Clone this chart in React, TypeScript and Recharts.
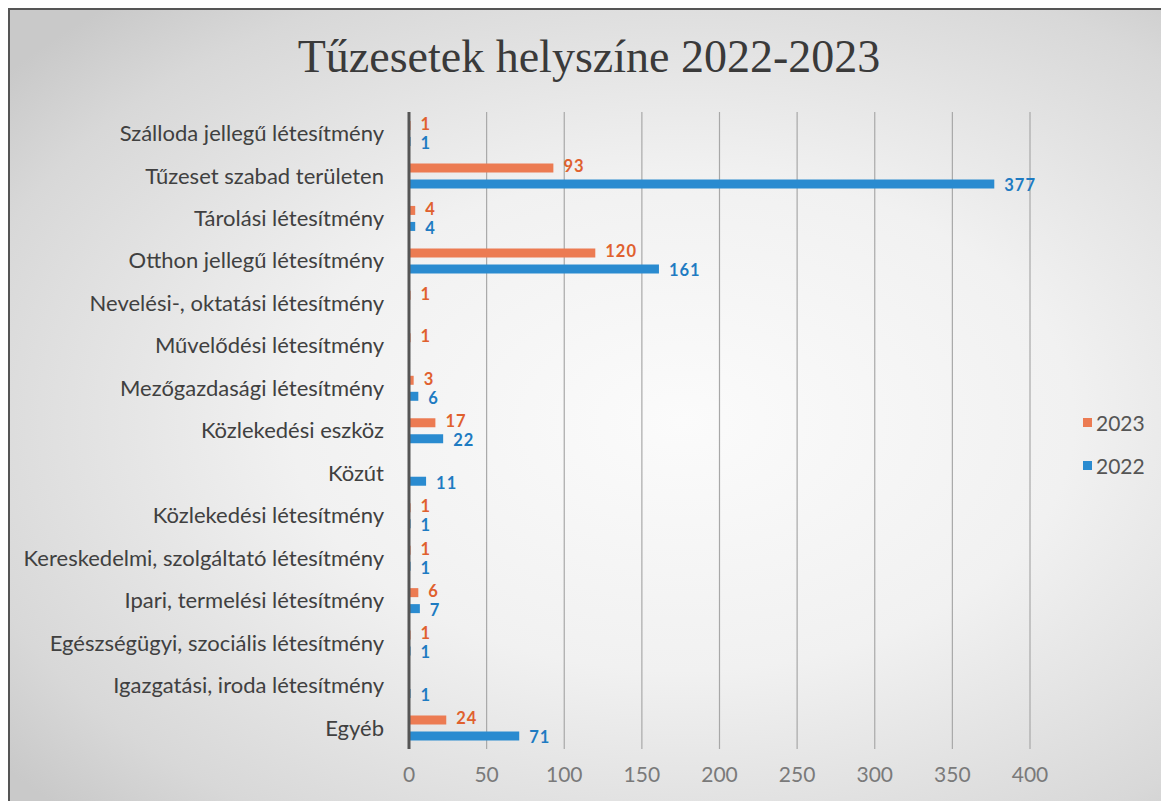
import { BarChart, Bar, XAxis, YAxis, CartesianGrid, LabelList } from "recharts"

const categories = [
  "Szálloda jellegű létesítmény",
  "Tűzeset szabad területen",
  "Tárolási létesítmény",
  "Otthon jellegű létesítmény",
  "Nevelési-, oktatási létesítmény",
  "Művelődési létesítmény",
  "Mezőgazdasági létesítmény",
  "Közlekedési eszköz",
  "Közút",
  "Közlekedési létesítmény",
  "Kereskedelmi, szolgáltató létesítmény",
  "Ipari, termelési létesítmény",
  "Egészségügyi, szociális létesítmény",
  "Igazgatási, iroda létesítmény",
  "Egyéb",
]

const values2023 = [1, 93, 4, 120, 1, 1, 3, 17, null, 1, 1, 6, 1, null, 24]
const values2022 = [1, 377, 4, 161, null, null, 6, 22, 11, 1, 1, 7, 1, 1, 71]
const xTicks = [0, 50, 100, 150, 200, 250, 300, 350, 400]
const legendItems = ["2023", "2022"]

const data = categories.map((name, i) => ({
  name,
  y2023: values2023[i],
  y2022: values2022[i],
}))

const ORANGE = "#EC7B52"
const BLUE = "#2A8BD0"
const FONT = "Lato, 'Open Sans', sans-serif"
const legendColors = [ORANGE, BLUE]

const fmt = (v: any) => (v === null || v === undefined ? "" : v)

export default function App() {
  return (
    <div
      style={{
        position: "relative",
        width: 1161,
        height: 793,
        boxSizing: "border-box",
        borderLeft: "2px solid #555",
        borderTop: "2px solid #555",
        background:
          "radial-gradient(ellipse 75% 70% at 58% 52%, #fbfbfb 0%, #f1f1f1 45%, #d8d8d8 85%, #c9c9c9 100%)",
      }}
    >
      <div
        style={{
          position: "absolute",
          top: 20,
          left: 0,
          width: 1158,
          textAlign: "center",
          fontFamily: "'Liberation Serif', 'Times New Roman', serif",
          fontSize: 46,
          color: "#3a3a3a",
        }}
      >
        Tűzesetek helyszíne 2022-2023
      </div>
      <div
        style={{
          position: "absolute",
          left: 1073,
          top: 391,
          fontFamily: FONT,
          fontSize: 21,
          color: "#555",
          lineHeight: "43px",
        }}
      >
        {legendItems.map((s, i) => (
          <div key={s} style={{ display: "flex", alignItems: "center" }}>
            <span style={{ width: 9, height: 9, background: legendColors[i], marginRight: 4, display: "inline-block" }} />
            {s}
          </div>
        ))}
      </div>
      <BarChart
        width={1159}
        height={791}
        data={data}
        layout="vertical"
        margin={{ top: 102, right: 139, bottom: 12, left: 0 }}
        barSize={9}
        barGap={7}
      >
        <CartesianGrid horizontal={false} stroke="#a8a8a8" strokeWidth={1.2} />
        <XAxis
          type="number"
          domain={[0, 400]}
          ticks={xTicks}
          axisLine={false}
          tickLine={false}
          height={40}
          tickMargin={12}
          tick={{ fill: "#7a7a7a", fontSize: 21, fontFamily: FONT }}
        />
        <YAxis
          type="category"
          dataKey="name"
          width={399}
          axisLine={{ stroke: "#555", strokeWidth: 3 }}
          tickLine={false}
          tickMargin={19}
          interval={0}
          tick={{ fill: "#404040", fontSize: 22, fontFamily: FONT }}
        />
        <Bar dataKey="y2023" name="2023" fill={ORANGE} isAnimationActive={false}>
          <LabelList
            dataKey="y2023"
            position="right"
            offset={10}
            formatter={fmt}
            dy={-1.5}
            style={{ fill: "#E0602E", fontWeight: 700, fontSize: 16.5, letterSpacing: 1, fontFamily: FONT }}
          />
        </Bar>
        <Bar dataKey="y2022" name="2022" fill={BLUE} isAnimationActive={false}>
          <LabelList
            dataKey="y2022"
            position="right"
            offset={10}
            formatter={fmt}
            dy={1.5}
            style={{ fill: "#1E7BC2", fontWeight: 700, fontSize: 16.5, letterSpacing: 1, fontFamily: FONT }}
          />
        </Bar>
      </BarChart>
    </div>
  )
}
